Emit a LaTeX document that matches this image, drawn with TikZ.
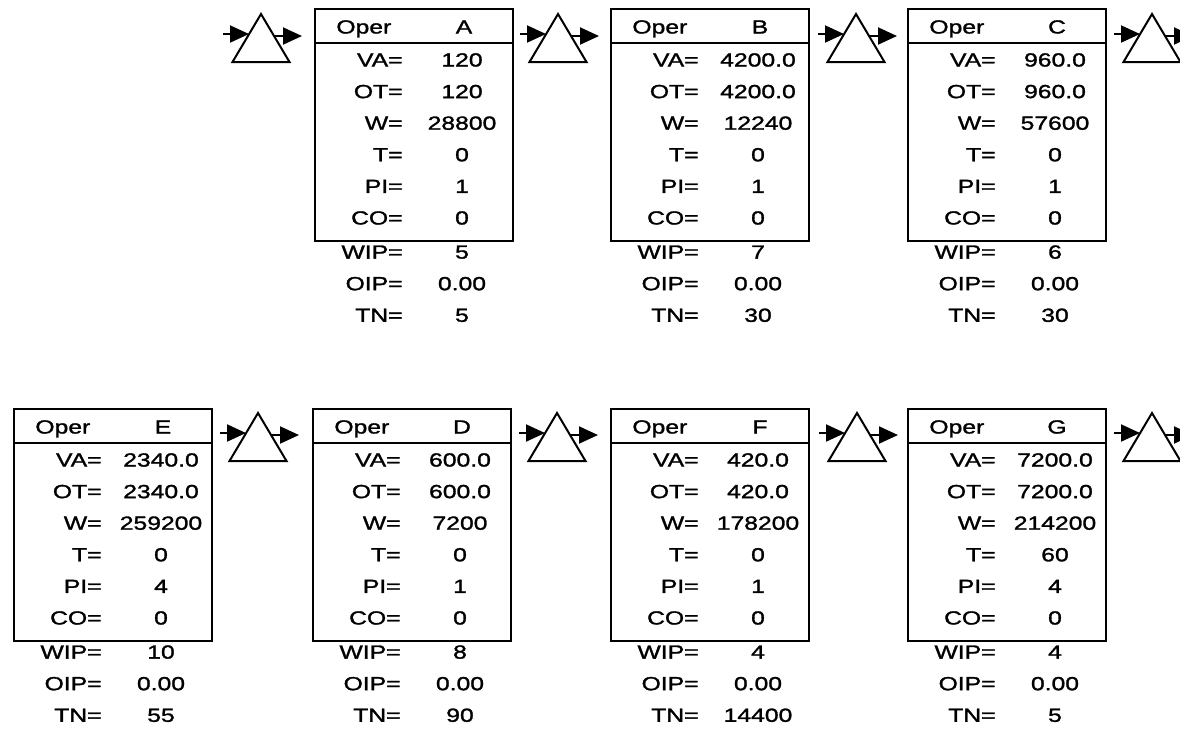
\documentclass[tikz,border=0pt]{standalone}
\usepackage{fontspec}
\setmainfont{Liberation Sans}[FakeStretch=1.3, FakeBold=1.5]
\usetikzlibrary{arrows.meta,calc}

\tikzset{
	opbox/.style={draw, line width=1.2pt, minimum width=99pt, minimum height=116pt, inner sep=0pt, anchor=north west},
	boxline/.style={line width=1.2pt},
	txt/.style={inner sep=0pt, font=\fontsize{9.5}{11}\selectfont},
	lab/.style={txt, anchor=base east},
	num/.style={txt, anchor=base},
	tri/.style={line width=1pt, line join=miter},
	stub/.style={line width=1pt, -{Triangle[length=9.5pt,width=8.5pt]}},
}

% operation box: \operbox(left,top){name}{VA,OT,W,T,PI,CO,WIP,OIP,TN}
% (the last three lines sit under the box)
\def\operbox(#1)#2#3{
	\begin{scope}[shift={(#1)}]
		\node[opbox] (op#2) at (0,0) {};
		\draw[boxline] ([yshift=-17.5pt]op#2.north west) -- ([yshift=-17.5pt]op#2.north east);
		\node[txt, anchor=base west] (op#2-oper) at (22,25.5) {Oper};
		\node[num] (op#2-id) at (150,25.5) {#2};
		\foreach \lab [count=\i from 0] in {VA=,OT=,W=,T=,PI=,CO=,WIP=,OIP=,TN=}
			\node[lab] (op#2-l\i) at (89,{58.5+31.6*\i+2.5*(\i>5)}) {\lab};
		\foreach \val [count=\i from 0] in {#3}
			\node[num] (op#2-v\i) at (148,{58.5+31.6*\i+2.5*(\i>5)}) {\val};
	\end{scope}
}

% inventory triangle: \invsym(apex){n}
\def\invsym(#1)#2{
	\begin{scope}[shift={(#1)}]
		\coordinate (inv#2) at (0,0);
		\coordinate (inv#2-in) at (-38,20);
		\coordinate (inv#2-out) at (41,22);
		\draw[tri] (inv#2) -- ++(28.5,48) -- ++(-57,0) -- cycle;
		\draw[stub] (inv#2-in) -- ++(26,0);
		\draw[stub] ($(inv#2)+(13,22)$) -- (inv#2-out);
	\end{scope}
}

\begin{document}
\begin{tikzpicture}[x=0.5pt, y=-0.5pt]
		%%%%% START %%%%%
		\useasboundingbox (0,0) rectangle (1180,736);
		\clip (0,0) rectangle (1180,736);
		
		% first line
		\invsym(261,14){1}
		\operbox(314,8){A}{120,120,28800,0,1,0,5,0.00,5}
		\invsym(558,14){2}
		\operbox(610,8){B}{4200.0,4200.0,12240,0,1,0,7,0.00,30}
		\invsym(856,14){3}
		\operbox(907,8){C}{960.0,960.0,57600,0,1,0,6,0.00,30}
		\invsym(1152,14){4}
		
		% second line
		\operbox(13,408){E}{2340.0,2340.0,259200,0,4,0,10,0.00,55}
		\invsym(258,413){5}
		\operbox(312,408){D}{600.0,600.0,7200,0,1,0,8,0.00,90}
		\invsym(557,413){6}
		\operbox(610,408){F}{420.0,420.0,178200,0,1,0,4,0.00,14400}
		\invsym(857,413){7}
		\operbox(907,408){G}{7200.0,7200.0,214200,60,4,0,4,0.00,5}
		\invsym(1152,413){8}
		
		%%%%% END %%%%%
\end{tikzpicture}
\end{document}
